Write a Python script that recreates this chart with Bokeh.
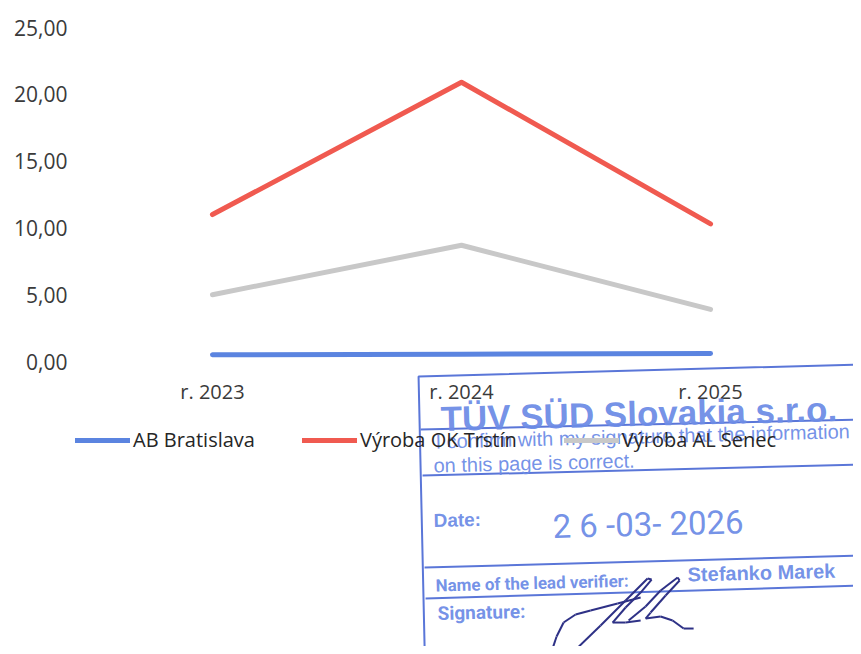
from bokeh.plotting import figure
from bokeh.models import Legend, LegendItem, Label, PolyAnnotation, Arrow, Range1d, FixedTicker, FactorRange
from bokeh.embed import file_html
from bokeh.resources import INLINE

# ---- data ----
years = ["r. 2023", "r. 2024", "r. 2025"]
ab_bratislava = [0.5, 0.55, 0.6]
vyroba_ok_trstin = [11.0, 20.9, 10.3]
vyroba_al_senec = [5.0, 8.7, 3.9]
series_names = ["AB Bratislava", "Výroba OK Trstín", "Výroba AL Senec"]
y_ticks = [0, 5, 10, 15, 20, 25]

colors = ["#5b84e0", "#f05a50", "#c8c8c8"]
FONT = "Open Sans"

PAD = 0.074
p = figure(x_range=FactorRange(*years, range_padding=PAD, range_padding_units="absolute"),
           y_range=Range1d(-21.33, 25), width=853, height=646,
           output_backend="svg", toolbar_location=None,
           min_border_left=69, min_border_right=0, min_border_top=27, min_border_bottom=0)
p.outline_line_color = None
p.xgrid.grid_line_color = None
p.ygrid.grid_line_color = None
p.background_fill_color = "white"

renderers = []
for vals, c in zip([ab_bratislava, vyroba_ok_trstin, vyroba_al_senec], colors):
    r = p.line(years, vals, line_width=5, line_color=c, line_cap="round", line_join="round")
    renderers.append(r)

p.yaxis.ticker = FixedTicker(ticks=y_ticks)
p.yaxis.major_label_overrides = {t: f"{t:.2f}".replace(".", ",") for t in y_ticks}
p.xaxis.fixed_location = 0
for ax in (p.xaxis[0], p.yaxis[0]):
    ax.axis_line_color = None
    ax.major_tick_line_color = None
    ax.minor_tick_line_color = None
    ax.major_tick_out = 0
    ax.major_tick_in = 0
    ax.major_label_text_font = FONT
    ax.major_label_text_font_size = "20px"
    ax.major_label_text_color = "#3a3a3a"
p.yaxis.major_label_text_font_size = "21px"
p.yaxis.major_label_standoff = 2
p.xaxis.major_label_standoff = 16

legend = Legend(items=[LegendItem(label=n, renderers=[r]) for n, r in zip(series_names, renderers)],
                orientation="horizontal", location=(6, 193),
                glyph_width=55, glyph_height=20, label_height=20, label_standoff=3,
                spacing=47, padding=0, margin=0,
                border_line_color=None, background_fill_alpha=0,
                label_text_font=FONT, label_text_font_size="20px", label_text_color="#262626")
p.add_layout(legend)

# ---- stamp overlay (decoration) ----
def X(xi):
    return (xi - 69) / 249.0 - PAD

def Y(yi):
    return (361 - yi) / 13.36

SC = "#6d8ce6"
SL = "#5a76d8"
ANG = 0.025

p.add_layout(PolyAnnotation(xs=[X(418), X(858), X(866), X(425)], ys=[Y(376), Y(364), Y(680), Y(690)],
                            fill_alpha=0, line_color=SL, line_alpha=1.0, line_width=2, level="overlay"))
for (x0, y0, x1, y1) in [(420, 429, 860, 419), (422, 475, 860, 464), (424, 567, 860, 555), (425, 598, 860, 585)]:
    p.add_layout(Arrow(end=None, x_start=X(x0), y_start=Y(y0), x_end=X(x1), y_end=Y(y1),
                       line_color=SL, line_width=2, level="overlay"))

def stamp_text(txt, xi, yi, size, font="Liberation Sans", style="normal", color=SC):
    p.add_layout(Label(x=X(xi), y=Y(yi), text=txt, angle=ANG, text_baseline="alphabetic",
                       text_font=font, text_font_size=size, text_font_style=style,
                       text_color=color, text_alpha=0.95, level="overlay"))

stamp_text("TÜV SÜD Slovakia s.r.o.", 440, 418, "35px", style="bold")
stamp_text("I confirm with my signature that the information", 435, 441, "20px")
stamp_text("on this page is correct.", 433, 465, "20px")
stamp_text("Date:", 433, 520, "19px", style="bold")
stamp_text("2 6 -03- 2026", 552, 526, "33px", font="Roboto")
stamp_text("Name of the lead verifier:", 435, 585, "17px", font="Roboto", style="bold")
stamp_text("Stefanko  Marek", 687, 574, "20px", style="bold")
stamp_text("Signature:", 437, 613, "19px", font="Roboto", style="bold")

# signature scribble
SIG = "#2e3186"
strokes = [
    [(550, 654), (556, 636), (563, 622), (575, 614), (590, 610), (617, 603), (640, 597)],
    [(570, 654), (600, 625), (625, 600), (647, 578), (651, 579), (640, 592), (625, 607), (612, 622), (625, 622), (640, 620)],
    [(628, 620), (645, 606), (660, 590), (677, 577), (679, 580), (665, 595), (650, 612), (645, 618), (660, 616), (672, 620), (683, 628), (693, 628)],
]
for pts in strokes:
    for (x0, y0), (x1, y1) in zip(pts[:-1], pts[1:]):
        p.add_layout(Arrow(end=None, x_start=X(x0), y_start=Y(y0), x_end=X(x1), y_end=Y(y1),
                           line_color=SIG, line_width=2, level="overlay"))

open("out.html", "w").write(file_html(p, INLINE))
